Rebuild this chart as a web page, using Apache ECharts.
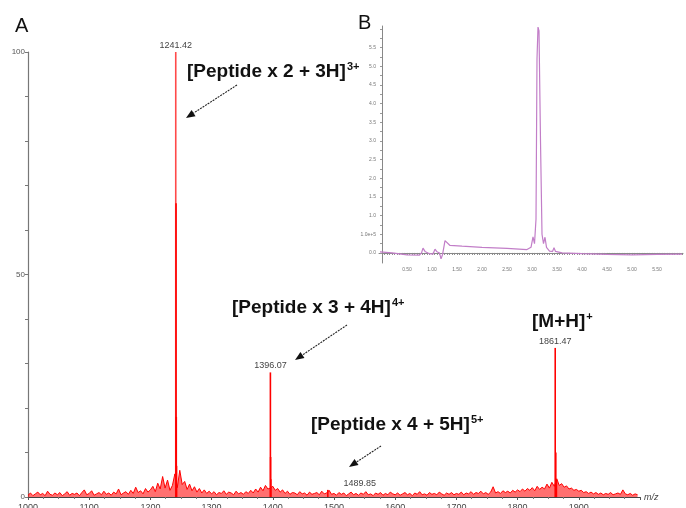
<!DOCTYPE html>
<html><head><meta charset="utf-8">
<script src="https://cdn.jsdelivr.net/npm/echarts@6/dist/echarts.min.js"></script>
<style>html,body{margin:0;padding:0;background:#fff}#c{width:686px;height:508px}</style>
</head><body><div id="c"></div>
<script>
// ---- Panel A: mass spectrum ----
const noiseStart = 1000, noiseStep = 4;
const noiseValues = [
 0.4,0.9,0.3,0.7,1.1,0.5,0.8,0.3,1.3,0.6,0.4,0.9,0.5,1.0,0.3,0.7,1.2,0.4,0.8,0.6,0.9,0.3,1.0,1.6,0.5,
 0.8,1.4,0.4,0.7,1.0,0.5,1.3,0.6,0.9,0.4,1.1,0.7,1.8,0.5,0.9,1.2,0.6,1.5,0.8,2.2,1.0,1.4,0.7,1.9,1.1,
 1.6,2.4,1.2,3.1,1.8,4.6,2.0,3.8,1.5,2.6,5.2,2.1,6.0,2.8,3.5,1.7,2.9,1.4,2.3,1.1,1.9,0.9,1.6,0.8,1.3,
 0.7,1.2,0.5,1.0,0.8,1.4,0.6,1.1,0.9,0.5,1.3,0.7,1.0,0.6,1.2,0.8,1.5,0.9,1.8,1.1,2.2,1.4,2.6,1.8,2.0,
 2.4,1.5,1.9,1.1,1.6,0.8,1.3,0.6,1.0,0.9,0.5,1.2,0.7,0.9,0.4,1.1,0.6,0.8,1.0,0.5,1.3,0.7,0.9,1.5,0.6,
 0.8,0.4,1.0,0.6,0.9,0.3,0.7,1.1,0.5,0.8,0.4,0.9,0.6,1.2,0.5,0.7,0.3,0.9,0.6,1.0,0.4,0.8,0.5,1.1,0.7,
 0.5,0.9,0.4,0.7,1.0,0.5,0.8,0.3,0.9,0.6,1.2,0.5,0.7,0.4,1.0,0.6,0.8,0.5,1.1,0.7,0.4,0.9,0.6,1.0,0.5,
 0.8,0.6,1.1,0.5,0.9,0.7,1.2,0.6,1.0,0.8,1.3,0.7,1.0,0.6,1.1,2.3,0.9,1.2,0.8,1.4,1.0,1.3,0.9,1.5,1.1,
 1.6,1.2,1.8,1.3,1.9,1.5,2.1,1.4,2.4,1.7,2.2,1.8,2.9,2.0,3.3,2.4,4.1,2.6,3.0,2.2,2.5,1.8,2.0,1.5,1.7,
 1.3,1.5,1.0,1.2,0.8,1.1,0.7,1.0,0.6,0.9,0.5,0.8,0.6,1.0,0.5,0.7,0.9,0.6,1.6,0.7,0.5,0.8,0.4,0.7,0.5
];
const peakMz  = [1241.42, 1241.9, 1242.3, 1242.7, 1396.07, 1396.4, 1396.7, 1489.85, 1861.47, 1862.4, 1863.4];
const peakInt = [100,     66,     18,     7,      28,      9,      4,      1.6,     33.5,    10,     4];
const labeledMz = [1241.42, 1396.07, 1489.85, 1861.47];
const specYLabels = [0, 50, 100];

// ---- Panel B: chromatogram ----
const lcTime = [-0.04,0.2,0.5,0.75,0.79,0.82,0.86,0.95,1.02,1.06,1.1,1.15,1.18,1.21,1.26,1.3,1.36,1.6,2.0,2.5,2.9,2.98,3.02,3.05,3.08,3.1,3.12,3.14,3.17,3.2,3.23,3.26,3.29,3.35,3.41,3.44,3.47,3.6,4.0,4.5,5.0,5.5,6.0];
const lcSignal = [0.03,0.0,-0.05,-0.06,0.0,0.13,0.04,-0.02,-0.03,0.1,0.03,0.0,-0.16,-0.05,0.33,0.28,0.2,0.18,0.15,0.12,0.09,0.15,0.43,0.25,0.9,5.2,6.05,5.95,3.0,0.5,0.25,0.42,0.15,0.05,0.04,0.14,0.04,0.0,-0.02,-0.04,-0.05,-0.04,-0.03];
const lcApexTime = 3.12, lcApexLabel = '3.13';
const insetYTicks  = [0,0.5,1.0,1.5,2.0,2.5,3.0,3.5,4.0,4.5,5.0,5.5];
const insetYLabels = ['0.0','1.0e+5','1.0','1.5','2.0','2.5','3.0','3.5','4.0','4.5','5.0','5.5'];
const insetXTicks  = [0.5,1.0,1.5,2.0,2.5,3.0,3.5,4.0,4.5,5.0,5.5];
const insetXLabels = ['0.50','1.00','1.50','2.00','2.50','3.00','3.50','4.00','4.50','5.00','5.50'];

const FONT = 'Liberation Sans, Arial, sans-serif';
const noiseData = noiseValues.map((v, i) => [noiseStart + i * noiseStep, v]);
const peakData = peakMz.map((m, i) => {
  const lab = labeledMz.indexOf(m) >= 0;
  const d = { value: [m, peakInt[i]], itemStyle: { color: i === 0 ? '#ff4a4a' : '#ff0000' } };
  if (lab) {
    d.label = { show: true, position: 'top', distance: 2, formatter: m.toFixed(2), fontSize: 9, color: '#444', fontFamily: FONT };
    if (m === 1489.85) d.label.offset = [32, 0];
  }
  return d;
});
const lcData = lcTime.map((t, i) => {
  const d = { value: [t, lcSignal[i]] };
  if (t === lcApexTime) d.label = { show: true, position: 'left', formatter: lcApexLabel, fontSize: 5, color: '#666', offset: [2, -3] };
  return d;
});
const insetMinorX = []; for (let v = 0; v <= 6.0001; v += 0.05) insetMinorX.push(+v.toFixed(2));
const insetMinorY = []; for (let v = 0; v <= 6.0001; v += 0.25) insetMinorY.push(+v.toFixed(2));

// annotation helpers
function arrow(x0, y0, x1, y1) {
  const dx = x1 - x0, dy = y1 - y0, L = Math.hypot(dx, dy), ux = dx / L, uy = dy / L;
  const hl = 9, hw = 3.6, bx = x1 - ux * hl, by = y1 - uy * hl, nx = -uy, ny = ux;
  return [
    { type: 'line', shape: { x1: x0, y1: y0, x2: bx, y2: by }, style: { stroke: '#222', lineWidth: 1.1, lineDash: [2, 1] }, silent: true },
    { type: 'polygon', shape: { points: [[x1, y1], [bx + nx * hw, by + ny * hw], [bx - nx * hw, by - ny * hw]] }, style: { fill: '#111' }, silent: true }
  ];
}
function ion(x, y, main, sup) {
  return { type: 'text', x: x, y: y, silent: true, style: {
    text: '{m|' + main + '}{s|' + sup + '}', verticalAlign: 'middle', align: 'left',
    rich: { m: { fontFamily: FONT, fontWeight: 'bold', fontSize: 19, fill: '#111', lineHeight: 22 },
            s: { fontFamily: FONT, fontWeight: 'bold', fontSize: 11, fill: '#111', verticalAlign: 'top', lineHeight: 22, padding: [0, 0, 0, 1] } } } };
}

const chart = echarts.init(document.getElementById('c'), null, { renderer: 'canvas' });
chart.setOption({
  animation: false,
  backgroundColor: '#fff',
  grid: [
    { left: 28, right: 46, top: 52, bottom: 11, containLabel: false, outerBoundsMode: 'none' },
    { left: 379, right: 3, top: 26, bottom: 245, containLabel: false, outerBoundsMode: 'none' }
  ],
  xAxis: [
    { type: 'value', gridIndex: 0, min: 1000, max: 2000, interval: 100,
      name: 'm/z', nameLocation: 'end', nameGap: 4, nameTextStyle: { fontStyle: 'italic', fontSize: 9, color: '#444', fontFamily: FONT },
      axisLine: { lineStyle: { color: '#444', width: 1 } },
      axisTick: { show: true, length: 3, lineStyle: { color: '#555' } },
      minorTick: { show: true, splitNumber: 4, length: 2, lineStyle: { color: '#777' } },
      axisLabel: { fontSize: 9, color: '#444', margin: 6, showMaxLabel: false, fontFamily: FONT, formatter: v => String(v) },
      splitLine: { show: false } },
    { type: 'value', gridIndex: 1, min: -0.06, max: 6.02,
      axisLine: { lineStyle: { color: '#888', width: 1 } },
      axisTick: { show: true, length: 2, customValues: insetMinorX, lineStyle: { color: '#888' } },
      axisLabel: { customValues: insetXTicks, formatter: v => insetXLabels[insetXTicks.indexOf(+v.toFixed(2))] || '', fontSize: 5, color: '#777', margin: 4 },
      splitLine: { show: false } }
  ],
  yAxis: [
    { type: 'value', gridIndex: 0, min: 0, max: 100, interval: 10,
      axisLine: { show: true, lineStyle: { color: '#777', width: 1.2 } },
      axisTick: { show: true, length: 3, lineStyle: { color: '#777' } },
      axisLabel: { customValues: specYLabels, fontSize: 8, color: '#555', margin: 3, fontFamily: FONT },
      splitLine: { show: false } },
    { type: 'value', gridIndex: 1, min: -0.27, max: 6.08,
      axisLine: { show: true, lineStyle: { color: '#888', width: 1 } },
      axisTick: { show: true, length: 2, customValues: insetMinorY, lineStyle: { color: '#999' } },
      axisLabel: { customValues: insetYTicks, formatter: v => insetYLabels[insetYTicks.indexOf(+v.toFixed(2))] || '', fontSize: 5, color: '#777', margin: 3 },
      splitLine: { show: false } }
  ],
  series: [
    { type: 'line', xAxisIndex: 0, yAxisIndex: 0, data: noiseData, showSymbol: false, silent: true,
      lineStyle: { color: '#ff0000', width: 1 }, areaStyle: { color: 'rgba(255,0,0,0.8)' }, z: 2 },
    { type: 'bar', xAxisIndex: 0, yAxisIndex: 0, data: peakData, barWidth: 1.6, silent: true, z: 3 },
    { type: 'line', xAxisIndex: 1, yAxisIndex: 1, data: lcData, showSymbol: false, silent: true,
      lineStyle: { color: '#c27ec8', width: 1.2 }, z: 3 }
  ],
  graphic: [
    { type: 'text', x: 15, y: 16, style: { text: 'A', fontFamily: FONT, fontSize: 20, fill: '#111' }, silent: true },
    { type: 'text', x: 358, y: 13, style: { text: 'B', fontFamily: FONT, fontSize: 20, fill: '#111' }, silent: true },
    ion(187, 72, '[Peptide x 2 + 3H]', '3+'),
    ion(232, 308, '[Peptide x 3 + 4H]', '4+'),
    ion(311, 425, '[Peptide x 4 + 5H]', '5+'),
    ion(532, 322, '[M+H]', '+'),
    ...arrow(237, 85, 186, 118),
    ...arrow(347, 325, 295, 360),
    ...arrow(381, 446, 349, 467)
  ]
});
</script></body></html>
